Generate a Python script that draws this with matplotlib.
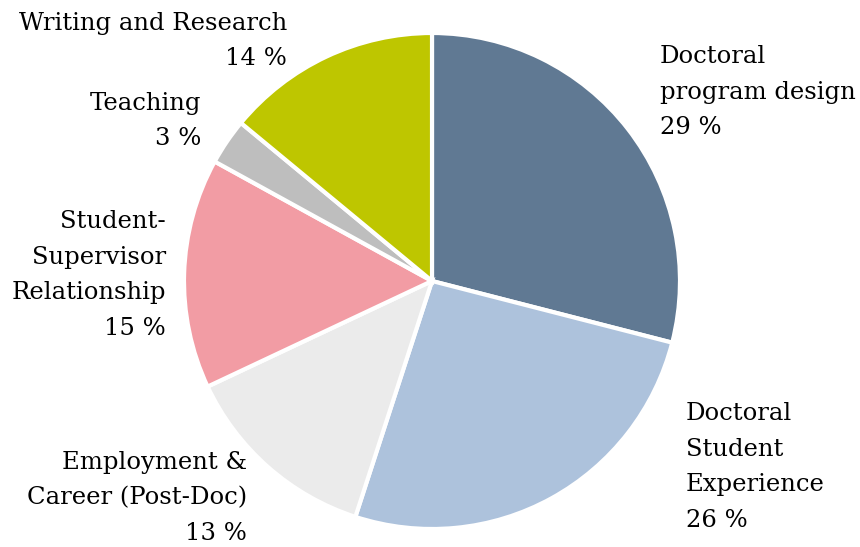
import matplotlib
matplotlib.use('Agg')
import matplotlib.pyplot as plt

labels = ['Doctoral\nprogram design', 'Doctoral\nStudent\nExperience',
          'Employment &\nCareer (Post-Doc)', 'Student-\nSupervisor\nRelationship',
          'Teaching', 'Writing and Research']
values = [29, 26, 13, 15, 3, 14]
colors = ['#607993', '#adc2dc', '#ebebeb', '#f29ca4', '#bebebe', '#bec600']

# label anchor (pixel x, pixel y of block centre) and alignment
label_pos = [(660, 92, 'left'), (686, 467, 'left'), (247, 498, 'right'),
             (166, 275, 'right'), (201, 121, 'right'), (287, 41, 'right')]

W, H = 860, 547
cx, cy, r = 432, 281, 248

fig = plt.figure(figsize=(W / 100, H / 100), dpi=100)
ax = fig.add_axes([0, 0, 1, 1])
ax.pie(values, colors=colors, startangle=90, counterclock=False, radius=1,
       wedgeprops=dict(edgecolor='white', linewidth=3))
ax.set_xlim(-cx / r, (W - cx) / r)
ax.set_ylim((cy - H) / r, cy / r)
ax.set_aspect('auto')
ax.axis('off')

for lab, v, (px, py, ha) in zip(labels, values, label_pos):
    ax.text((px - cx) / r, (cy - py) / r, f'{lab}\n{v} %', ha=ha, va='center',
            fontsize=17.5, family='DejaVu Serif', color='#000000', linespacing=1.72,
            multialignment=ha)

fig.savefig('out.png', dpi=100)
